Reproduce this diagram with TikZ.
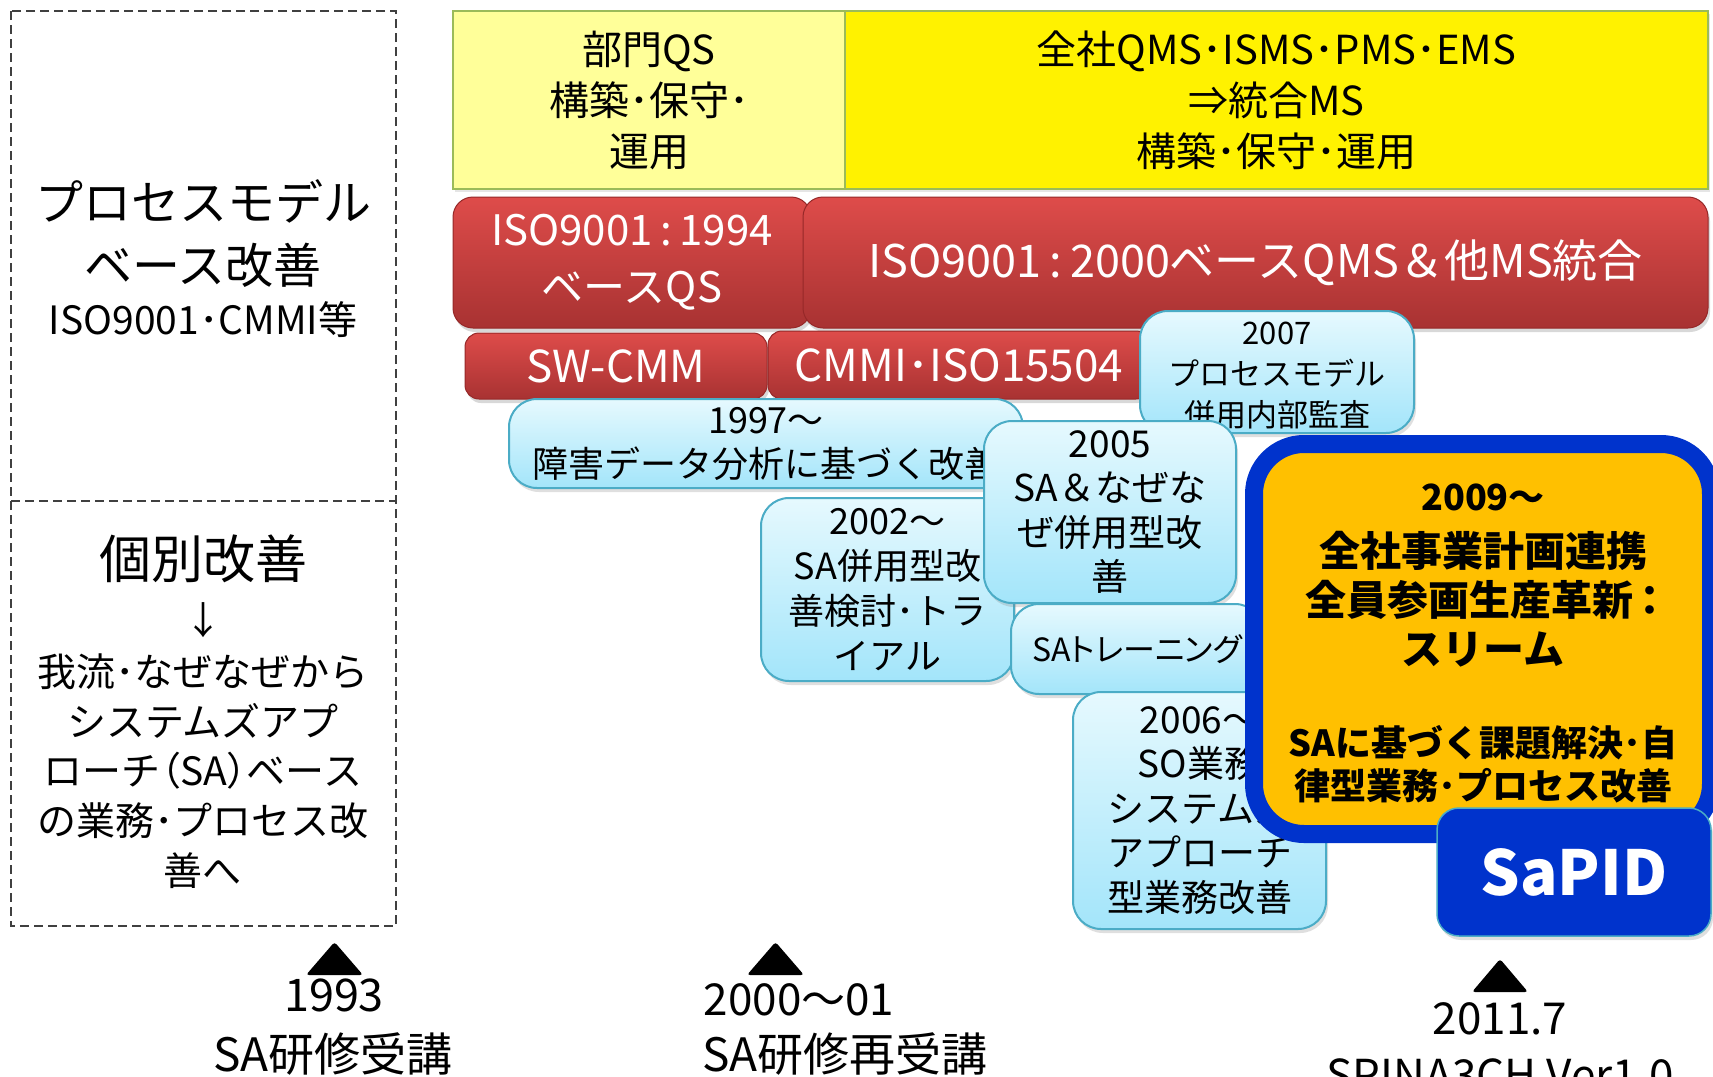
\documentclass[tikz,border=0pt]{standalone}
\usepackage{fontspec}
\setmainfont{Noto Sans CJK JP}
\newfontfamily\jpp[RawFeature=+palt]{Noto Sans CJK JP}
\usetikzlibrary{shadows}
\definecolor{lyel}{RGB}{255,255,153}
\definecolor{ygreen}{RGB}{155,187,89}
\definecolor{redtop}{RGB}{222,76,74}
\definecolor{redbot}{RGB}{168,50,50}
\definecolor{redline}{RGB}{150,40,40}
\definecolor{bltop}{RGB}{230,249,254}
\definecolor{blbot}{RGB}{163,229,250}
\definecolor{blline}{RGB}{75,172,198}
\definecolor{orng}{RGB}{255,192,0}
\definecolor{dblue}{RGB}{0,51,204}
\definecolor{dashgray}{RGB}{64,64,64}
\newcommand{\fsz}[2]{\fontsize{#1}{#2}\selectfont}
\newcommand{\clnx}{\kern0.18em:\kern0.18em}
\tikzset{
 redbox/.style={rectangle, rounded corners=20pt, top color=redtop, bottom color=redbot, draw=redline, line width=1pt, text=white, inner sep=0pt, align=center, drop shadow={opacity=0.3, shadow xshift=2pt, shadow yshift=-4pt}},
 bluebox/.style={rectangle, rounded corners=28pt, top color=bltop, bottom color=blbot, draw=blline, line width=2pt, inner sep=0pt, align=center, drop shadow={opacity=0.25, shadow xshift=2pt, shadow yshift=-4pt}},
 ybox/.style={rectangle, draw=ygreen, line width=2pt, inner sep=0pt, align=center, drop shadow={opacity=0.2, shadow xshift=2pt, shadow yshift=-3pt}},
 txt/.style={inner sep=0pt, align=center},
 tri/.style={fill=black, rounded corners=3pt},
 dashline/.style={draw=dashgray, line width=1.8pt, dash pattern=on 9pt off 5pt},
}
\begin{document}
\begin{tikzpicture}[x=1pt,y=-1pt]
\useasboundingbox (0,0) rectangle (1713,1076);
\clip (0,0) rectangle (1713,1076);
\fill[white] (0,0) rectangle (1713,1076);

% left dashed panel
\draw[dashline] (11,11) rectangle (396,926);
\draw[dashline] (11,501) -- (396,501);
\node[txt, font={\fsz{48}{63}}] (lt1) at (203,233.5) {プロセスモデル\\ベース改善};
\node[txt, font={\fsz{39}{44}}] (lt2) at (203,320) {ISO9001･CMMI等};
\node[txt, font={\fsz{52}{60}}] (lt3) at (203,559) {個別改善};
\node[txt, font={\fsz{38}{44}}] (lt4) at (203,620) {↓};
\node[txt, font={\fsz{39}{49.75}}] (lt5) at (203,771) {我流･なぜなぜから\\システムズアプ\\ローチ{\jpp（}SA{\jpp）}ベース\\の業務･プロセス改\\善へ};

% top yellow boxes
\node[ybox, fill=lyel, minimum width=392pt, minimum height=178pt, font={\fsz{40}{51}}] (yl) at (649,100) {部門QS\\構築･保守･\\運用};
\node[ybox, fill=yellow, minimum width=863pt, minimum height=178pt, font={\fsz{40}{51}}] (yr) at (1276.5,100) {全社QMS･ISMS･PMS･EMS\\⇒統合MS\\構築･保守･運用};

% red boxes
\node[redbox, minimum width=358pt, minimum height=131pt, font={\fsz{42}{57}}] (r1) at (632,262.5) {ISO9001\clnx 1994\\ベースQS};
\node[redbox, minimum width=905pt, minimum height=131pt, font={\fsz{45}{50}}] (r2) at (1255.5,262.5) {ISO9001\clnx 2000ベースQMS＆他MS統合};
\node[redbox, rounded corners=14pt, minimum width=302pt, minimum height=66pt, font={\fsz{44}{50}}] (r3) at (616,366) {SW-CMM};
\node[redbox, rounded corners=14pt, minimum width=382pt, minimum height=68pt, font={\fsz{44}{50}}] (r4) at (959,365) {CMMI･ISO15504};

% light blue boxes
\node[bluebox, minimum width=274pt, minimum height=122pt] (b2007) at (1277,372) {};
\begin{scope}
\clip[rounded corners=28pt] (1141,312) rectangle (1413,430);
\node[txt, font={\fsz{31}{41}}] (t2007) at (1277,376) {2007\\プロセスモデル\\併用内部監査};
\end{scope}
\node[bluebox, minimum width=514pt, minimum height=89pt, font={\fsz{36}{44}}] (b1997) at (766,443.5) {1997～\\障害データ分析に基づく改善};
\node[bluebox, minimum width=253pt, minimum height=183pt, font={\fsz{36}{45}}] (b2002) at (887.5,589.5) {2002～\\SA併用型改\\善検討･トラ\\イアル};
\node[bluebox, minimum width=252pt, minimum height=182pt, font={\fsz{37}{44.3}}] (b2005) at (1110,512) {2005\\SA＆なぜな\\ぜ併用型改\\善};
\node[bluebox, minimum width=252pt, minimum height=90pt, font={\jpp\fsz{32}{40}}] (bsat) at (1137,649) {SAトレーニング};
\node[bluebox, minimum width=253pt, minimum height=237pt, font={\fsz{37}{44.5}}] (b2006) at (1199.5,810.5) {2006～\\SO業務\\システムズ\\アプローチ\\型業務改善};

% orange box
\node[rectangle, rounded corners=50pt, fill=orng, draw=dblue, line width=18pt, minimum width=457pt, minimum height=390pt, inner sep=0pt] (ob) at (1482.5,639) {};
\node[txt, font={\bfseries\fsz{36}{44}}] (o1) at (1483,497) {2009～};
\node[txt, font={\bfseries\fsz{41}{49}}] (o2) at (1483,599) {全社事業計画連携\\全員参画生産革新{\jpp\kern0.15em：}\\スリーム};
\node[txt, font={\bfseries\fsz{36}{43}}] (o3) at (1483,764.5) {SAに基づく課題解決･自\\律型業務･プロセス改善};

% SaPID
\node[rectangle, rounded corners=22pt, fill=dblue, draw=blline, line width=1.5pt, minimum width=274pt, minimum height=128pt, text=white, font={\bfseries\fsz{62}{70}}, drop shadow={opacity=0.25, shadow xshift=2pt, shadow yshift=-4pt}] (sapid) at (1574,872) {SaPID};

% milestones
\fill[tri] (306,975) -- (334.5,942) -- (363,975) -- cycle;
\fill[tri] (747,975) -- (775.5,942) -- (804,975) -- cycle;
\fill[tri] (1472,992) -- (1500,959) -- (1528,992) -- cycle;
\node[txt, font={\fsz{45}{50}}] (m1) at (334,995) {1993};
\node[txt, font={\fsz{46}{50}}] (m1b) at (333,1054) {SA研修受講};
\node[txt, font={\fsz{44}{50}}] (m2) at (799,1000) {2000～01};
\node[txt, font={\fsz{46}{50}}] (m2b) at (845,1054) {SA研修再受講};
\node[txt, font={\fsz{44}{50}}] (m3) at (1500,1019) {2011.7};
\node[txt, font={\fsz{44}{50}}] (m3b) at (1500,1075) {SPINA3CH Ver1.0};
\end{tikzpicture}
\end{document}
